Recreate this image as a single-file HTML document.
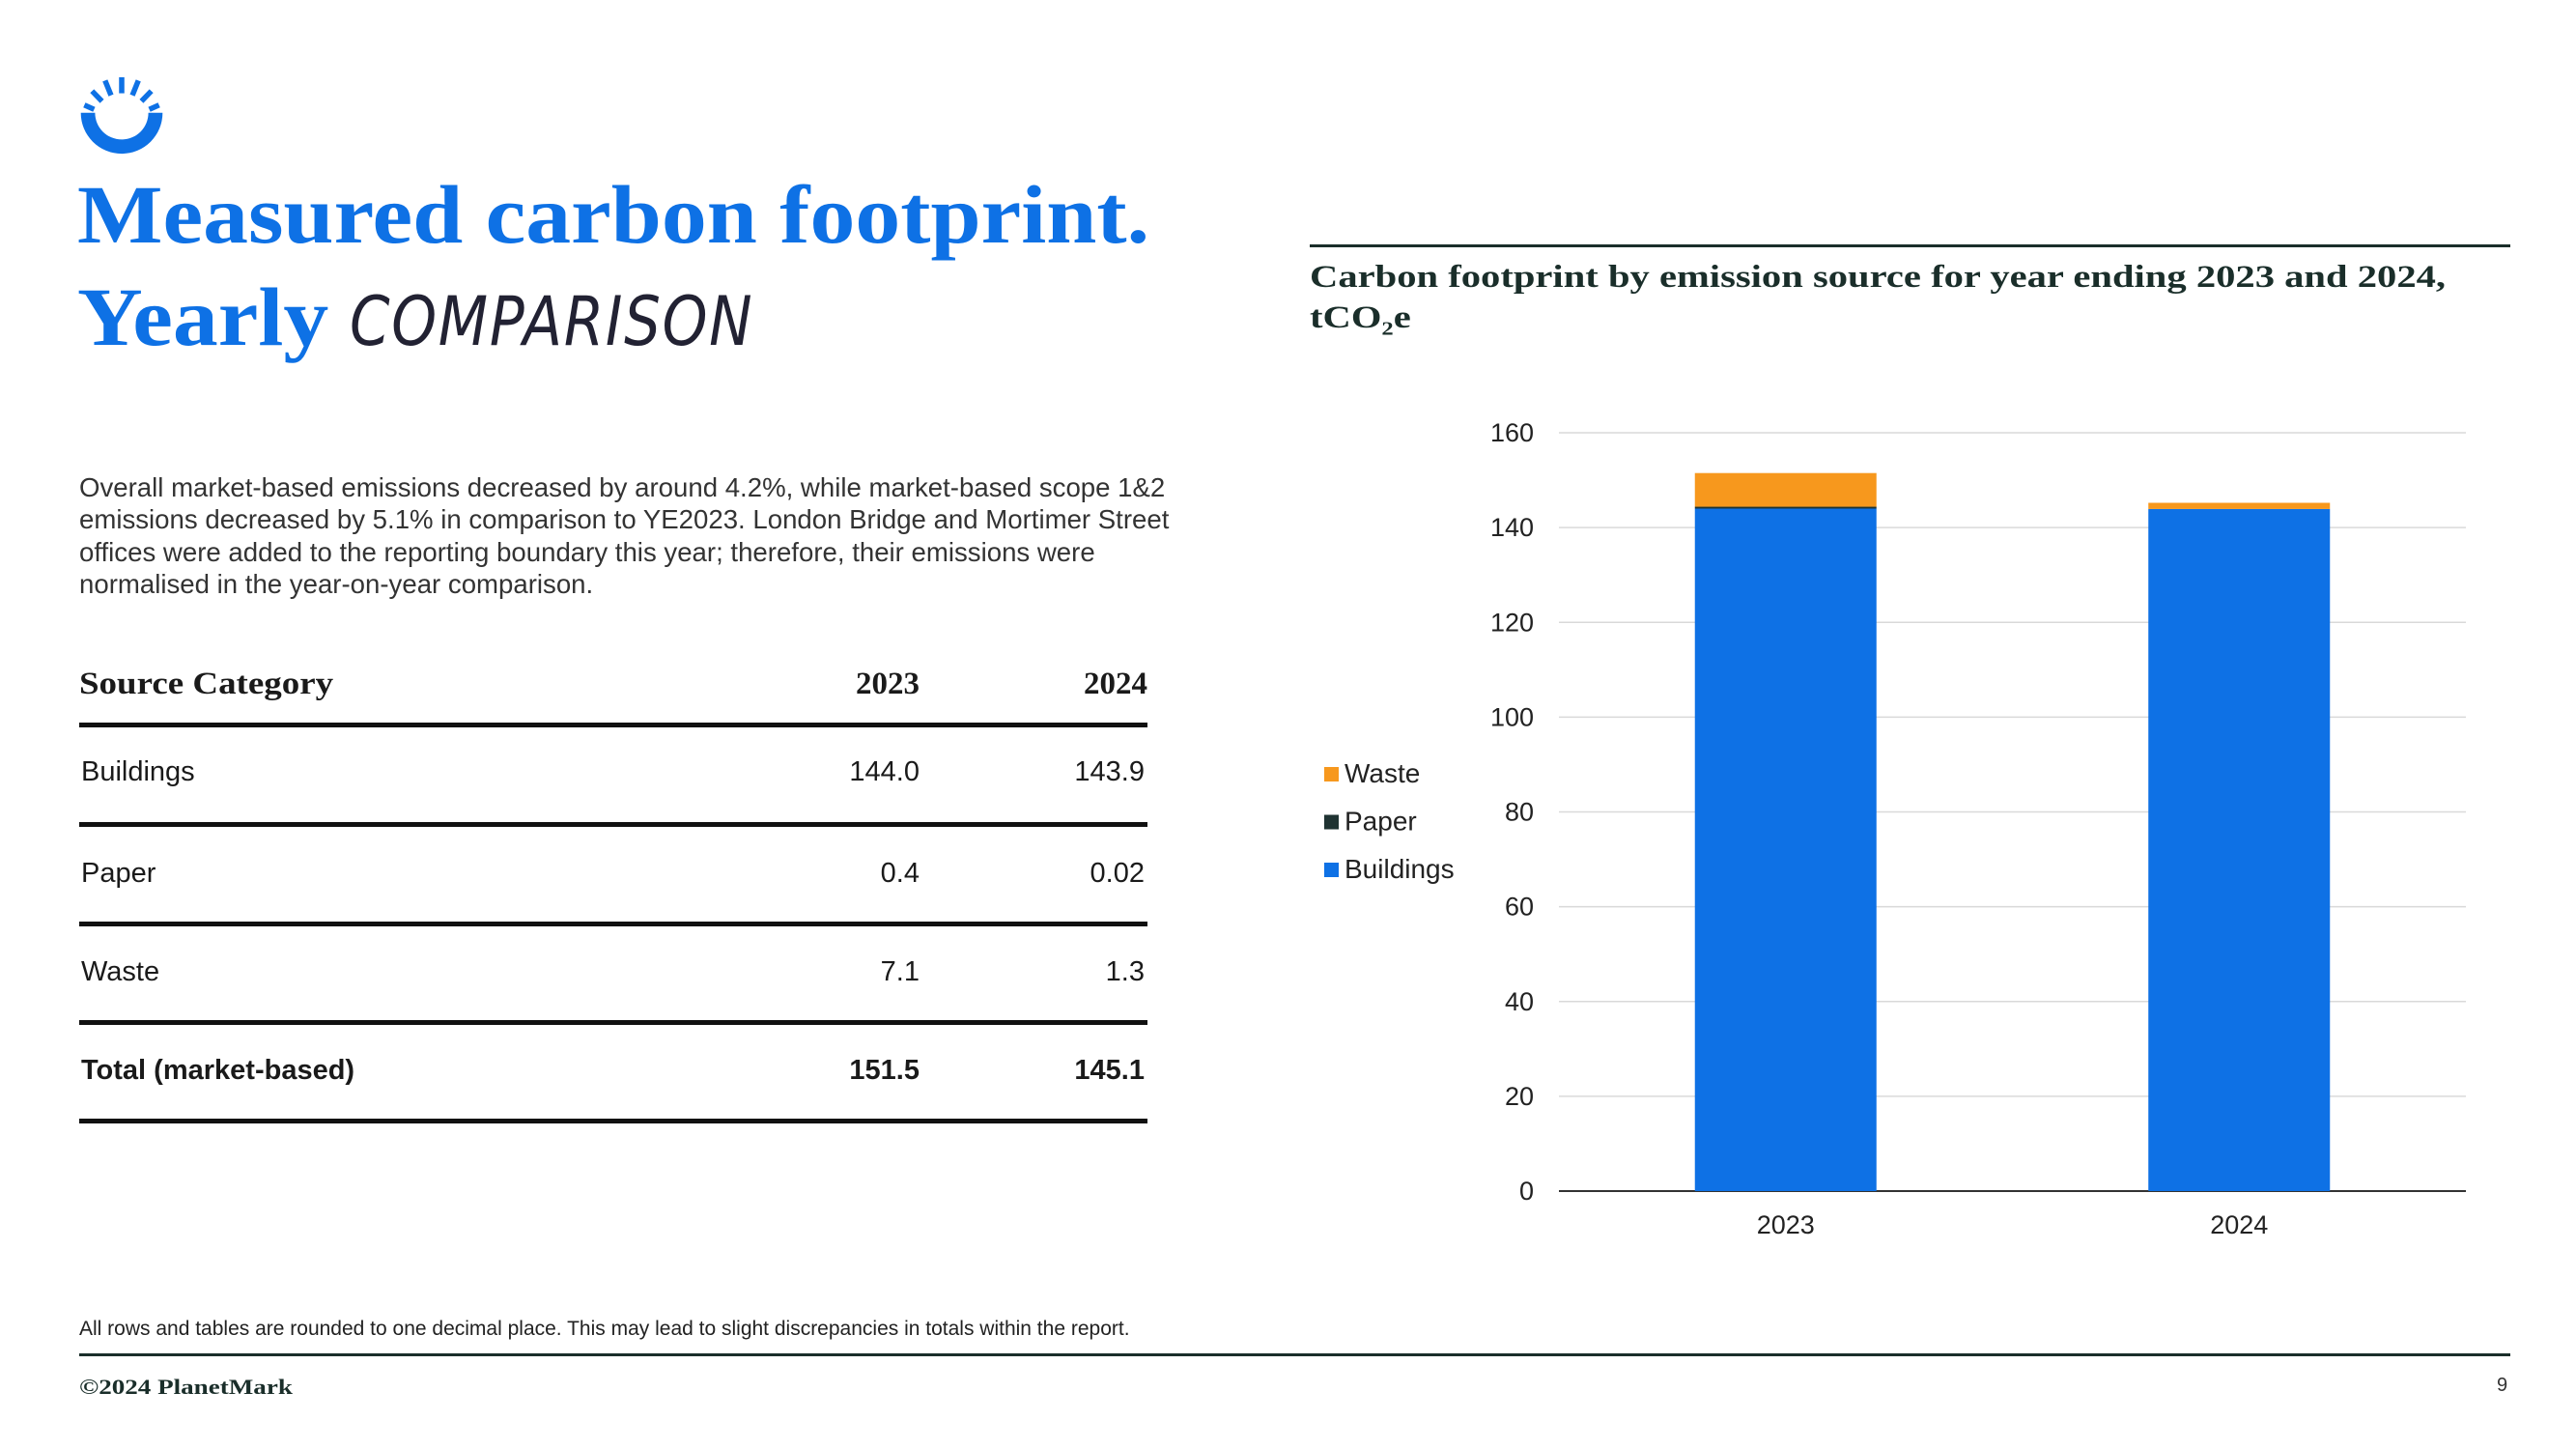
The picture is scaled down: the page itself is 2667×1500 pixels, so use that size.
<!DOCTYPE html>
<html><head><meta charset="utf-8"><style>
body{margin:0;width:2667px;height:1500px;background:#fff;position:relative;overflow:hidden;font-family:"Liberation Sans",sans-serif;color:#1a1a1a}
.abs{position:absolute}
.serif{font-family:"Liberation Serif",serif;font-weight:bold}
</style></head><body>
<svg class="abs" style="left:80px;top:80px" width="92" height="92" viewBox="0 0 100 100">
 <g fill="#0e71e5">
  <path d="M4 40 A46 46 0 0 0 96 40 L80 40 A30 30 0 0 1 20 40 Z"/>
  <rect x="47" y="0" width="6" height="18"/>
  <rect x="47" y="0" width="6" height="18" transform="rotate(-22 50 50)"/>
  <rect x="47" y="0" width="6" height="18" transform="rotate(22 50 50)"/>
  <rect x="47" y="2" width="6" height="16" transform="rotate(-44 50 50)"/>
  <rect x="47" y="2" width="6" height="16" transform="rotate(44 50 50)"/>
  <rect x="47" y="4" width="6" height="12" transform="rotate(-66 50 50)"/>
  <rect x="47" y="4" width="6" height="12" transform="rotate(66 50 50)"/>
 </g>
</svg>
<div class="abs serif" style="left:80px;top:172px;font-size:86px;color:#0e71e5;line-height:100px;white-space:nowrap;transform:scaleX(1.09);transform-origin:left">Measured carbon footprint.</div>
<div class="abs serif" style="left:80px;top:278px;font-size:86px;color:#0e71e5;line-height:100px;white-space:nowrap"><span style="display:inline-block;transform:scaleX(1.09);transform-origin:left;margin-right:22px">Yearly</span> <span style="font-family:'DejaVu Sans',sans-serif;font-weight:200;font-style:italic;color:#223;font-size:70px;display:inline-block;transform:scaleX(0.85);transform-origin:left;letter-spacing:2px">COMPARISON</span></div>
<div class="abs" style="left:82px;top:488px;width:1200px;font-size:27.6px;line-height:33.3px;color:#333">Overall market-based emissions decreased by around 4.2%, while market-based scope 1&amp;2<br>emissions decreased by 5.1% in comparison to YE2023. London Bridge and Mortimer Street<br>offices were added to the reporting boundary this year; therefore, their emissions were<br>normalised in the year-on-year comparison.</div>

<div class="abs" style="left:82px;top:690px;width:1106px">
 <div style="position:relative;height:58px;border-bottom:5px solid #111">
  <span class="abs serif" style="left:0;top:0;font-size:33px;transform:scaleX(1.12);transform-origin:left">Source Category</span>
  <span class="abs serif" style="right:236px;top:0;font-size:33px">2023</span>
  <span class="abs serif" style="right:0;top:0;font-size:33px">2024</span>
 </div>
 <div style="position:relative;height:98px;border-bottom:5px solid #111;font-size:29px"><span class="abs" style="left:2px;top:30px">Buildings</span><span class="abs" style="right:236px;top:30px">144.0</span><span class="abs" style="right:3px;top:30px">143.9</span></div>
 <div style="position:relative;height:98px;border-bottom:5px solid #111;font-size:29px"><span class="abs" style="left:2px;top:32px">Paper</span><span class="abs" style="right:236px;top:32px">0.4</span><span class="abs" style="right:3px;top:32px">0.02</span></div>
 <div style="position:relative;height:97px;border-bottom:5px solid #111;font-size:29px"><span class="abs" style="left:2px;top:31px">Waste</span><span class="abs" style="right:236px;top:31px">7.1</span><span class="abs" style="right:3px;top:31px">1.3</span></div>
 <div style="position:relative;height:97px;border-bottom:5px solid #111;font-size:29px;font-weight:bold"><span class="abs" style="left:2px;top:31px">Total (market-based)</span><span class="abs" style="right:236px;top:31px">151.5</span><span class="abs" style="right:3px;top:31px">145.1</span></div>
</div>

<div class="abs" style="left:1356px;top:253px;width:1243px;border-top:3px solid #1a2e2a"></div>
<div class="abs serif" style="left:1356px;top:266px;font-size:33px;line-height:42px;color:#1a2e2a;white-space:nowrap;transform:scaleX(1.23);transform-origin:left">Carbon footprint by emission source for year ending 2023 and 2024,<br>tCO<sub style="font-size:20px">2</sub>e</div>

<svg id="chart" class="abs" style="left:0;top:0" width="2667" height="1500"></svg>

<div class="abs" style="left:82px;top:1364px;font-size:21px;color:#222">All rows and tables are rounded to one decimal place. This may lead to slight discrepancies in totals within the report.</div>
<div class="abs" style="left:82px;top:1401px;width:2517px;border-top:3px solid #1a2e2a"></div>
<div class="abs serif" style="left:82px;top:1423px;font-size:22px;color:#1a2e2a;transform:scaleX(1.23);transform-origin:left">©2024 PlanetMark</div>
<div class="abs" style="left:2585px;top:1423px;font-size:20px;color:#333">9</div>

<script>
const categories=["2023","2024"];
const buildings=[144.0,143.9];
const paper=[0.4,0.02];
const waste=[7.1,1.3];
const yTicks=[0,20,40,60,80,100,120,140,160];
const seriesNames=["Waste","Paper","Buildings"];
const colors={Buildings:"#0e71e5",Paper:"#1f3332",Waste:"#f7981d"};
const NS="http://www.w3.org/2000/svg";
const svg=document.getElementById('chart');
const x0=1614,x1=2553,y0=1233,y1=448,ymax=160;
const y=v=>y0-(v/ymax)*(y0-y1);
const band=(x1-x0)/categories.length;
const xc=i=>x0+band*(i+0.5);
const bw=188;
function mk(t,a){const e=document.createElementNS(NS,t);for(const k in a)e.setAttribute(k,a[k]);svg.appendChild(e);return e;}
yTicks.forEach(t=>{
 const g=mk('line',{x1:x0,x2:x1,y1:y(t),y2:y(t),stroke:t===0?'#333':'#d9d9d9','stroke-width':t===0?2:1.5});
 
 
 const l=mk('text',{x:1588,y:y(t)+9,'text-anchor':'end','font-size':27,fill:'#222','font-family':'Liberation Sans, sans-serif'});
 l.textContent=t;
 
 
});
categories.forEach((c,i)=>{
 let base=0;
 [["Buildings",buildings[i]],["Paper",paper[i]],["Waste",waste[i]]].forEach(([n,v])=>{
  const r=mk('rect',{x:xc(i)-bw/2,y:y(base+v),width:bw,height:Math.max(y(base)-y(base+v),0),fill:colors[n]});
  
  
  base+=v;
 });
 const l=mk('text',{x:xc(i),y:1277,'text-anchor':'middle','font-size':27,fill:'#222','font-family':'Liberation Sans, sans-serif'});
 l.textContent=c;
 
 
});
seriesNames.forEach((n,i)=>{
 const yy=810+i*49.5;
 const s=mk('rect',{x:1371,y:yy-16,width:15,height:15,fill:colors[n]});
 
 
 const t=mk('text',{x:1392,y:yy,'font-size':28,fill:'#222','font-family':'Liberation Sans, sans-serif'});
 t.textContent=n;
 
 
});
</script>
</body></html>
